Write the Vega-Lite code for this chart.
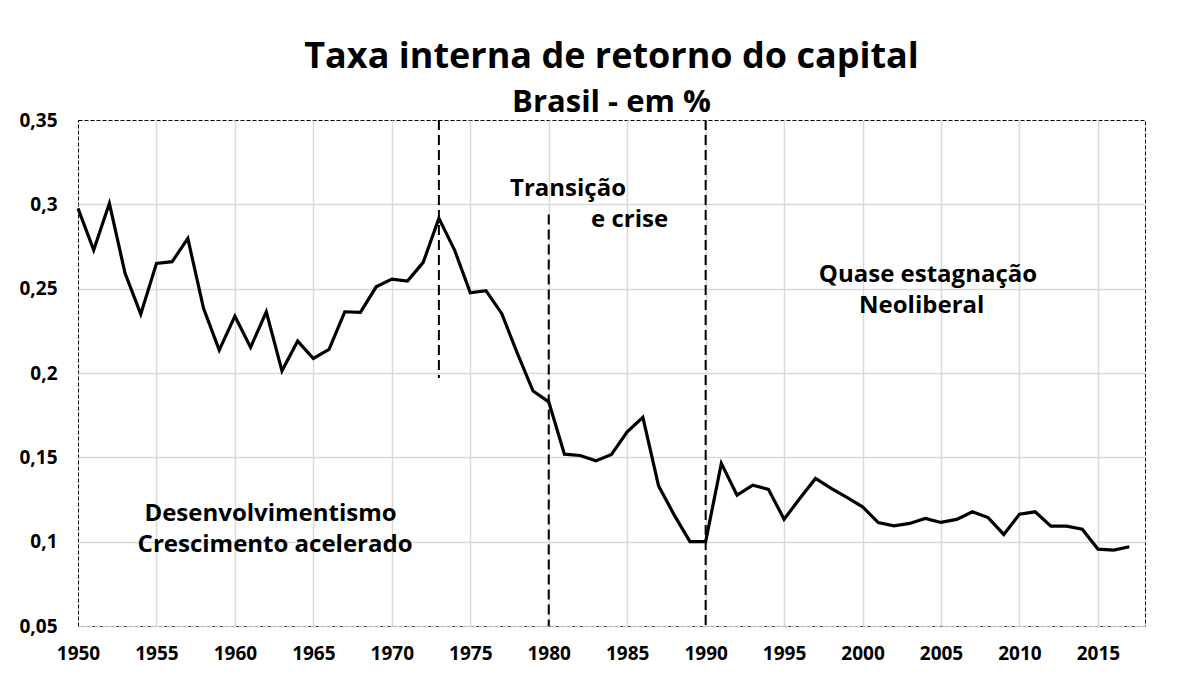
{
  "$schema": "https://vega.github.io/schema/vega-lite/v6.json",
  "autosize": {"type": "none"},
  "width": 1067,
  "height": 506,
  "padding": {"left": 78, "top": 120, "right": 52, "bottom": 58},
  "background": "white",
  "title": {
    "text": "Taxa interna de retorno do capital",
    "subtitle": "Brasil - em %",
    "anchor": "middle",
    "font": "Open Sans",
    "fontSize": 36,
    "fontWeight": "bold",
    "color": "black",
    "subtitleFont": "Open Sans",
    "subtitleFontSize": 31,
    "subtitleFontWeight": "bold",
    "subtitleColor": "black",
    "subtitlePadding": 12,
    "offset": -8
  },
  "config": {
    "view": {"stroke": "black", "strokeWidth": 1, "strokeDash": [4, 2]},
    "axis": {
      "labelFont": "Open Sans",
      "labelFontWeight": "bold",
      "labelFontSize": 19,
      "labelColor": "black",
      "gridWidth": 1.5,
      "ticks": false,
      "title": null
    }
  },
  "datasets": {
    "series": [
      {"year": 1950, "value": 0.2976}, {"year": 1951, "value": 0.2729}, {"year": 1952, "value": 0.3006},
      {"year": 1953, "value": 0.2591}, {"year": 1954, "value": 0.2349}, {"year": 1955, "value": 0.2650},
      {"year": 1956, "value": 0.2660}, {"year": 1957, "value": 0.2798}, {"year": 1958, "value": 0.2383},
      {"year": 1959, "value": 0.2136}, {"year": 1960, "value": 0.2337}, {"year": 1961, "value": 0.2152},
      {"year": 1962, "value": 0.2363}, {"year": 1963, "value": 0.2013}, {"year": 1964, "value": 0.2189},
      {"year": 1965, "value": 0.2086}, {"year": 1966, "value": 0.2140}, {"year": 1967, "value": 0.2363},
      {"year": 1968, "value": 0.2359}, {"year": 1969, "value": 0.2511}, {"year": 1970, "value": 0.2557},
      {"year": 1971, "value": 0.2545}, {"year": 1972, "value": 0.2656}, {"year": 1973, "value": 0.2917},
      {"year": 1974, "value": 0.2729}, {"year": 1975, "value": 0.2476}, {"year": 1976, "value": 0.2488},
      {"year": 1977, "value": 0.2353}, {"year": 1978, "value": 0.2116}, {"year": 1979, "value": 0.1893},
      {"year": 1980, "value": 0.1829}, {"year": 1981, "value": 0.1519}, {"year": 1982, "value": 0.1511},
      {"year": 1983, "value": 0.1479}, {"year": 1984, "value": 0.1517}, {"year": 1985, "value": 0.1651},
      {"year": 1986, "value": 0.1737}, {"year": 1987, "value": 0.1331}, {"year": 1988, "value": 0.1157},
      {"year": 1989, "value": 0.1000}, {"year": 1990, "value": 0.1000}, {"year": 1991, "value": 0.1464},
      {"year": 1992, "value": 0.1276}, {"year": 1993, "value": 0.1335}, {"year": 1994, "value": 0.1310},
      {"year": 1995, "value": 0.1133}, {"year": 1996, "value": 0.1256}, {"year": 1997, "value": 0.1375},
      {"year": 1998, "value": 0.1316}, {"year": 1999, "value": 0.1262}, {"year": 2000, "value": 0.1207},
      {"year": 2001, "value": 0.1113}, {"year": 2002, "value": 0.1094}, {"year": 2003, "value": 0.1108},
      {"year": 2004, "value": 0.1138}, {"year": 2005, "value": 0.1114}, {"year": 2006, "value": 0.1132},
      {"year": 2007, "value": 0.1177}, {"year": 2008, "value": 0.1143}, {"year": 2009, "value": 0.1043},
      {"year": 2010, "value": 0.1163}, {"year": 2011, "value": 0.1177}, {"year": 2012, "value": 0.1092},
      {"year": 2013, "value": 0.1092}, {"year": 2014, "value": 0.1074}, {"year": 2015, "value": 0.0956},
      {"year": 2016, "value": 0.0950}, {"year": 2017, "value": 0.0970}
    ],
    "rules": [
      {"year": 1973, "top": 0.35, "bottom": 0.197},
      {"year": 1980, "top": 0.294, "bottom": 0.05},
      {"year": 1990, "top": 0.35, "bottom": 0.05}
    ],
    "labels": [
      {"year": 1981.23, "value": 0.305, "text": "Transição"},
      {"year": 1985.15, "value": 0.2864, "text": "e crise"},
      {"year": 2004.17, "value": 0.2541, "text": "Quase estagnação"},
      {"year": 2003.77, "value": 0.2353, "text": "Neoliberal"},
      {"year": 1962.27, "value": 0.1122, "text": "Desenvolvimentismo"},
      {"year": 1962.56, "value": 0.0936, "text": "Crescimento acelerado"}
    ]
  },
  "layer": [
    {
      "data": {"name": "series"},
      "mark": {"type": "line", "color": "black", "strokeWidth": 3.2, "strokeJoin": "miter"},
      "encoding": {
        "x": {
          "field": "year", "type": "quantitative",
          "scale": {"domain": [1950, 2018], "nice": false, "zero": false},
          "axis": {"values": [1950, 1955, 1960, 1965, 1970, 1975, 1980, 1985, 1990, 1995, 2000, 2005, 2010, 2015],
                   "format": "d", "labelPadding": 18, "domainColor": "#c8c8c8", "domainWidth": 1.5, "domainDash": [6, 2], "labelFlush": false,
                   "gridColor": {"condition": {"test": "datum.value === 1950", "value": "transparent"}, "value": "#d9d9d9"}}
        },
        "y": {
          "field": "value", "type": "quantitative",
          "scale": {"domain": [0.05, 0.35], "nice": false, "zero": false},
          "axis": {"values": [0.05, 0.1, 0.15, 0.2, 0.25, 0.3, 0.35],
                   "labelExpr": "replace(format(datum.value, '.2~f'), '.', ',')",
                   "labelPadding": 21, "domain": false,
                   "gridColor": {"condition": {"test": "datum.value >= 0.349 || datum.value <= 0.051", "value": "transparent"}, "value": "#d9d9d9"}}
        }
      }
    },
    {
      "data": {"name": "rules"},
      "mark": {"type": "rule", "color": "black", "strokeWidth": 2, "strokeDash": [10, 5]},
      "encoding": {
        "x": {"field": "year", "type": "quantitative"},
        "y": {"field": "top", "type": "quantitative"},
        "y2": {"field": "bottom"}
      }
    },
    {
      "data": {"name": "labels"},
      "mark": {"type": "text", "font": "Open Sans", "fontWeight": "bold", "fontSize": 24, "color": "black", "baseline": "alphabetic", "align": "center"},
      "encoding": {
        "x": {"field": "year", "type": "quantitative"},
        "y": {"field": "value", "type": "quantitative"},
        "text": {"field": "text"}
      }
    }
  ]
}
